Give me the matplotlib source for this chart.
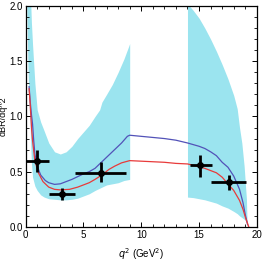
import numpy as np
import matplotlib
matplotlib.use("Agg")
import matplotlib.pyplot as plt
from matplotlib.ticker import MultipleLocator

plt.rcParams['font.family'] = ['Liberation Sans', 'DejaVu Sans']

# --- banda de incerteza (baixo q2) ---
q2_band1 = [0.1, 0.2, 0.3, 0.4, 0.45, 0.5, 0.6, 0.8, 1.0, 1.3, 1.6, 2.0, 2.5, 3.0, 3.5,
            4.0, 4.5, 5.0, 5.5, 6.0, 6.4, 6.6, 7.0, 7.5, 8.0, 8.5, 9.0]
band1_hi = [2.5, 2.35, 2.2, 2.05, 2.0, 1.85, 1.65, 1.3, 1.06, 0.95, 0.87, 0.76, 0.68, 0.66, 0.68,
            0.73, 0.8, 0.86, 0.92, 1.0, 1.06, 1.13, 1.2, 1.29, 1.4, 1.52, 1.66]
band1_lo = [2.0, 1.45, 1.1, 0.9, 0.72, 0.58, 0.45, 0.37, 0.33, 0.29, 0.27, 0.255, 0.25, 0.245, 0.245,
            0.25, 0.26, 0.28, 0.3, 0.33, 0.35, 0.36, 0.38, 0.39, 0.4, 0.42, 0.43]

# --- banda de incerteza (alto q2) ---
q2_band2 = [14.0, 14.5, 15.0, 15.5, 16.0, 16.5, 17.0, 17.5, 18.0, 18.3, 18.5, 18.7, 18.9, 19.1, 19.15]
band2_hi = [2.02, 1.96, 1.89, 1.8, 1.7, 1.59, 1.47, 1.34, 1.19, 1.07, 0.9, 0.76, 0.55, 0.25, 0.05]
band2_lo = [0.27, 0.265, 0.255, 0.245, 0.23, 0.215, 0.19, 0.17, 0.14, 0.12, 0.1, 0.085, 0.07, 0.045, 0.04]

# --- curva azul ---
q2_azul = [0.3, 0.4, 0.5, 0.6, 0.7, 0.8, 1.0, 1.3, 1.7, 2.0, 2.5, 3.0, 4.0, 5.0, 5.5, 6.0, 6.4,
           7.0, 7.7, 8.3, 8.8, 9.0, 10, 11, 12, 13, 14, 14.5, 15, 15.5, 16, 16.5, 17, 17.5,
           18, 18.5, 18.8, 19.0, 19.2]
br_azul = [1.27, 1.13, 1.02, 0.93, 0.78, 0.66, 0.55, 0.47, 0.42, 0.40, 0.385, 0.39, 0.43, 0.48, 0.50,
           0.53, 0.57, 0.63, 0.70, 0.76, 0.82, 0.83, 0.82, 0.81, 0.80, 0.785, 0.76, 0.745, 0.73,
           0.71, 0.68, 0.645, 0.585, 0.54, 0.46, 0.34, 0.22, 0.11, 0.02]

# --- curva vermelha ---
q2_verm = [0.3, 0.4, 0.52, 0.6, 0.8, 1.1, 1.5, 2.0, 2.5, 3.0, 3.8, 4.5, 5.0, 5.5, 6.0, 6.6, 7.2,
           7.7, 8.3, 9.0, 10, 11, 12, 13, 14, 15, 15.5, 16, 16.5, 17, 17.5, 18, 18.5, 18.8,
           19.0, 19.3]
br_verm = [1.25, 1.1, 0.88, 0.78, 0.6, 0.49, 0.41, 0.36, 0.34, 0.335, 0.34, 0.36, 0.38, 0.40, 0.43,
           0.47, 0.52, 0.55, 0.58, 0.6, 0.595, 0.59, 0.585, 0.575, 0.57, 0.545, 0.53, 0.51,
           0.49, 0.45, 0.39, 0.33, 0.24, 0.16, 0.09, 0.0]

# --- dados experimentais ---
q2_dados = np.array([1.0, 3.15, 6.5, 15.1, 17.55])
q2_min = np.array([0.0, 2.0, 4.3, 14.2, 16.0])
q2_max = np.array([2.0, 4.3, 8.7, 16.1, 19.1])
br_dados = np.array([0.60, 0.30, 0.49, 0.56, 0.41])
br_min = np.array([0.50, 0.24, 0.41, 0.455, 0.335])
br_max = np.array([0.70, 0.35, 0.59, 0.65, 0.47])

fig = plt.figure(figsize=(2.67, 2.62), dpi=100)
ax = fig.add_axes([0.096, 0.134, 0.866, 0.843])

ciano = '#9be4ef'
ax.fill_between(q2_band1, band1_lo, band1_hi, color=ciano, lw=0)
ax.fill_between(q2_band2, band2_lo, band2_hi, color=ciano, lw=0)

ax.plot(q2_azul, br_azul, color='#5252b8', lw=0.9)
ax.plot(q2_verm, br_verm, color='#e83a3a', lw=0.9)

ax.errorbar(q2_dados, br_dados,
            xerr=[q2_dados - q2_min, q2_max - q2_dados],
            yerr=[br_dados - br_min, br_max - br_dados],
            fmt='o', color='black', ms=4, elinewidth=2, capsize=0)

ax.set_xlim(0, 20)
ax.set_ylim(0, 2.0)
ax.xaxis.set_major_locator(MultipleLocator(5))
ax.xaxis.set_minor_locator(MultipleLocator(1))
ax.yaxis.set_major_locator(MultipleLocator(0.5))
ax.yaxis.set_minor_locator(MultipleLocator(0.1))
ax.yaxis.set_major_formatter(matplotlib.ticker.FormatStrFormatter('%.1f'))
ax.tick_params(which='both', direction='in', top=True, right=True, labelsize=7, pad=2)
ax.tick_params(which='major', length=3.5, width=0.7)
ax.tick_params(which='minor', length=2, width=0.6)
for s in ax.spines.values():
    s.set_linewidth(0.9)

ax.set_xlabel(r'$q^2$ (GeV$^2$)', fontsize=7, labelpad=5)
ax.set_ylabel('dBR/dq^2', fontsize=6.5, labelpad=1)

fig.savefig('out.png', dpi=100)
